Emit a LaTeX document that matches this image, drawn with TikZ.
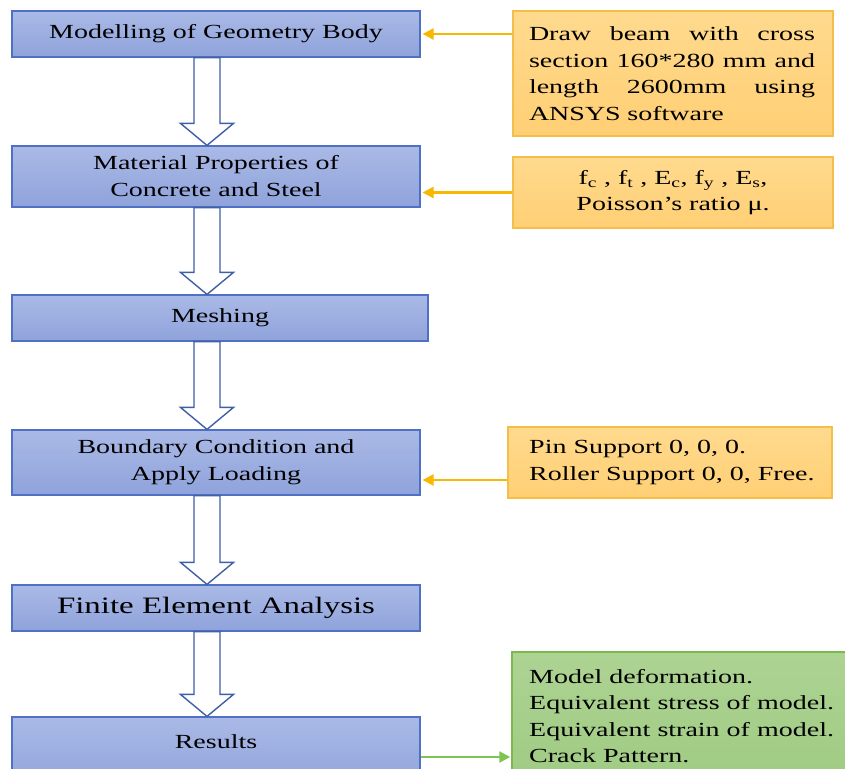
\documentclass[tikz,border=0pt]{standalone}
\usepackage{fontspec}
\setmainfont{Liberation Serif}[FakeStretch=1.4]
\usetikzlibrary{calc,arrows.meta}
\definecolor{bborder}{HTML}{4F70C4}
\definecolor{btop}{HTML}{AAB9E6}
\definecolor{bbot}{HTML}{8FA3DB}
\definecolor{oborder}{HTML}{F4BE4A}
\definecolor{otop}{HTML}{FFDA8E}
\definecolor{obot}{HTML}{FFCF74}
\definecolor{gborder}{HTML}{7DB84E}
\definecolor{gtop}{HTML}{ADD393}
\definecolor{gbot}{HTML}{9FCB82}
\definecolor{oline}{HTML}{F6B800}
\definecolor{gline}{HTML}{7EC452}
\definecolor{harrowc}{HTML}{3F5FA6}
\newcommand{\harrow}[2]{%
  \path let \p1=(ax |- #1.south), \p2=(ax |- #2.north) in
    [hollow] (\x1-13pt,\y1) -- (\x1+13pt,\y1) -- (\x1+13pt,\y2+22pt)
    -- (\x1+26.5pt,\y2+22pt) -- (\x1,\y2) -- (\x1-26.5pt,\y2+22pt)
    -- (\x1-13pt,\y2+22pt) -- cycle;}
\newcommand{\jline}[1]{\leavevmode\hbox to 286pt{#1}}
\begin{document}
\begin{tikzpicture}[x=1pt,y=-1pt,
  bluebox/.style={rectangle, draw=bborder, line width=1.2pt, top color=btop, bottom color=bbot, inner sep=0pt, minimum width=408pt, align=center, font=\fontsize{20}{27}\selectfont},
  orangebox/.style={rectangle, draw=oborder, line width=1.2pt, top color=otop, bottom color=obot, inner sep=0pt},
  greenbox/.style={rectangle, draw=gborder, line width=1.5pt, top color=gtop, bottom color=gbot, inner sep=0pt},
  rtext/.style={inner sep=0pt, font=\fontsize{20}{26.5}\selectfont},
  btext/.style={inner sep=0pt, align=center, font=\fontsize{20}{27}\selectfont},
  hollow/.style={draw=harrowc, line width=1.4pt, fill=white, line join=miter},
  oarrow/.style={draw=oline, line width=2.3pt, -{Triangle[length=11pt,width=11pt]}, shorten >=2pt},
  garrow/.style={draw=gline, line width=2.3pt, -{Triangle[length=11pt,width=11pt]}, shorten >=1pt}]
\useasboundingbox (0,0) rectangle (845,768);
\clip (0,0) rectangle (845,768);
\fill[white] (0,0) rectangle (845,768);
\coordinate (ax) at (207,0);
\coordinate (gy) at (0,757);
\coordinate (oy) at (0,480);
% left column
\node[bluebox, minimum height=46pt] (b1) at (216,34) {Modelling of Geometry Body};
\node[bluebox, minimum height=61pt] (b2) at (216,176.5) {Material Properties of\\Concrete and Steel};
\node[bluebox, minimum width=416pt, minimum height=46pt] (b3) at (220,318) {Meshing};
\node[bluebox, minimum height=65pt] (b4) at (216,462.5) {Boundary Condition and\\Apply Loading};
\node[bluebox, minimum height=46pt, font=\fontsize{23.5}{28}\selectfont] (b5) at (216,608) {Finite Element Analysis};
\node[bluebox, minimum height=72pt] (b6) at (216,753) {};
\node[btext] (t6) at (216,742) {Results};
% hollow arrows
\harrow{b1}{b2}
\harrow{b2}{b3}
\harrow{b3}{b4}
\harrow{b4}{b5}
\harrow{b5}{b6}
% right column
\node[orangebox, minimum width=320pt, minimum height=125pt] (o1) at (673,73.5) {};
\node[rtext, text width=286pt] (t1) at (672,73.5) {%
\jline{Draw\hfill beam\hfill with\hfill cross}\\
\jline{section\hfill 160*280\hfill mm\hfill and}\\
\jline{length\hfill 2600mm\hfill using}\\
ANSYS software};
\node[orangebox, minimum width=320pt, minimum height=71pt] (o2) at (673,192.5) {};
\node[rtext, align=center] (t2) at (673,192.5) {f\textsubscript{c} , f\textsubscript{t} , E\textsubscript{c}, f\textsubscript{y} , E\textsubscript{s},\\Poisson’s ratio μ.};
\node[orangebox, minimum width=324pt, minimum height=71pt] (o3) at (670,462.5) {};
\node[rtext, align=left, anchor=west] (t3) at (529,462.5) {Pin Support 0, 0, 0.\\Roller Support 0, 0, Free.};
\node[greenbox, minimum width=348pt, minimum height=138pt] (g1) at (686,721) {};
\node[rtext, align=left, anchor=west] (t4) at (529,716) {Model deformation.\\Equivalent stress of model.\\Equivalent strain of model.\\Crack Pattern.};
% connectors
\draw[oarrow] (o1.west |- b1.east) -- (b1.east);
\draw[oarrow] (o2.west) -- (o2.west -| b2.east);
\draw[oarrow] (o3.west |- oy) -- (b4.east |- oy);
\draw[garrow] (b6.east |- gy) -- (g1.west |- gy);
\end{tikzpicture}
\end{document}
